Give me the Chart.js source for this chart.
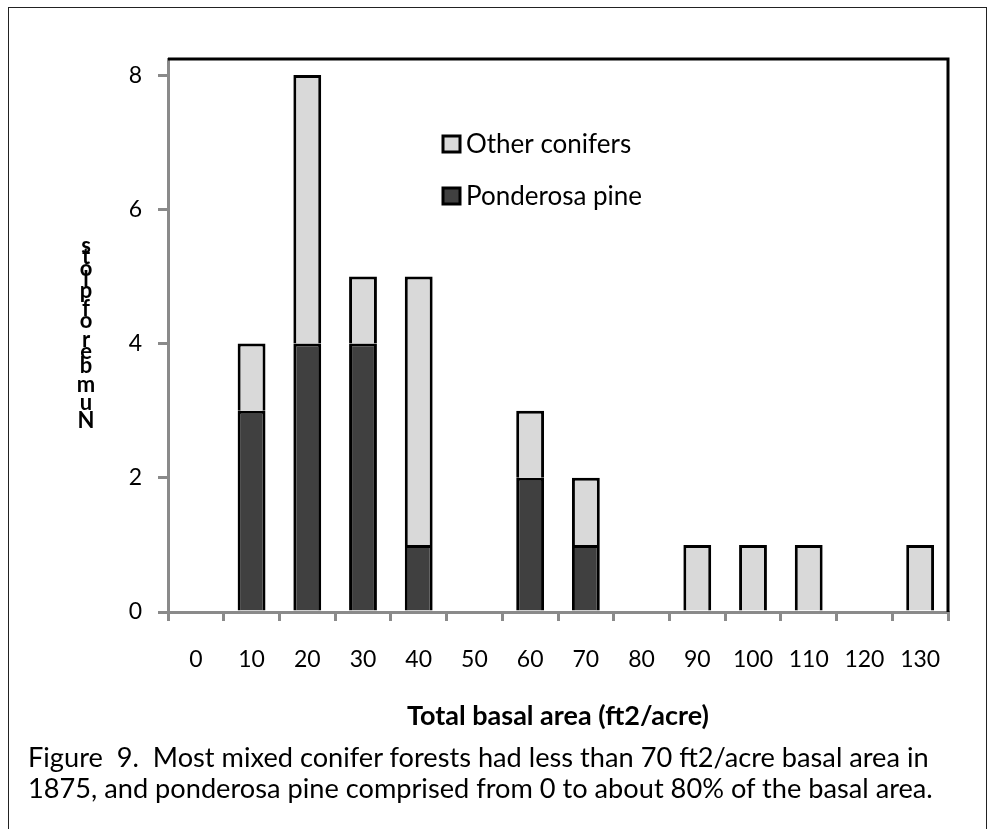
<!DOCTYPE html>
<html>
<head>
<meta charset="utf-8">
<script src="https://cdn.jsdelivr.net/npm/chart.js@4.4.1/dist/chart.umd.min.js"></script>
<style>
  body { margin: 0; background: #fff; overflow: hidden; }
  #frame { position: absolute; left: 8px; top: 7px; width: 979px; height: 840px; border: 1px solid #222; box-sizing: border-box; }
  #wrap { position: absolute; left: 0; top: 0; width: 991px; height: 829px; }
  .cap { position: absolute; left: 28px; font-family: Lato, sans-serif; font-size: 27.2px; line-height: 32px; color: #000; white-space: nowrap; }
</style>
</head>
<body>
<div id="frame"></div>
<div id="wrap"><canvas id="basalChart"></canvas></div>
<div class="cap" style="top:741px">Figure&nbsp; 9.&nbsp; Most mixed conifer forests had less than 70 ft2/acre basal area in</div>
<div class="cap" style="top:772px">1875, and ponderosa pine comprised from 0 to about 80% of the basal area.</div>
<script>
// Chart data
const basalClasses = ['0', '10', '20', '30', '40', '50', '60', '70', '80', '90', '100', '110', '120', '130'];
const ponderosaPine = [0, 3, 4, 4, 1, 0, 2, 1, 0, 0, 0, 0, 0, 0];
const otherConifers = [0, 1, 4, 1, 4, 0, 1, 1, 0, 1, 1, 1, 0, 1];
const yTicks = [0, 2, 4, 6, 8];
const yTitle = 'Number of plots';
const xTitle = 'Total basal area (ft2/acre)';

const axisGray = '#8a8a8a';
const font = 'Lato, sans-serif';

// zero counts are left empty so no flat bar gets drawn on the axis
const noZero = arr => arr.map(v => v === 0 ? null : v);

// black frame on top/right of the plot area
const plotFrame = {
    id: 'plotFrame',
    afterDatasetsDraw(chart) {
        const { ctx, chartArea: a } = chart;
        ctx.save();
        ctx.strokeStyle = '#000';
        ctx.lineWidth = 3;
        ctx.beginPath();
        ctx.moveTo(a.left, a.top);
        ctx.lineTo(a.right, a.top);
        ctx.lineTo(a.right, a.bottom);
        ctx.stroke();
        ctx.restore();
    }
};

// legend sitting inside the plot, Other conifers on top
const innerLegend = {
    id: 'innerLegend',
    afterDraw(chart) {
        const ctx = chart.ctx;
        const items = chart.data.datasets.slice().reverse();
        ctx.save();
        ctx.font = '26px ' + font;
        ctx.textBaseline = 'middle';
        items.forEach((ds, i) => {
            const y = 144 + i * 52;
            ctx.fillStyle = ds.backgroundColor;
            ctx.fillRect(443, y - 8, 17, 16);
            ctx.strokeStyle = '#000';
            ctx.lineWidth = 3;
            ctx.strokeRect(443, y - 8, 17, 16);
            ctx.fillStyle = '#000';
            ctx.fillText(ds.label, 466, y + 1);
        });
        ctx.restore();
    }
};

// y title as upright glyphs stacked bottom-to-top, like the original
const stackedYTitle = {
    id: 'stackedYTitle',
    afterDraw(chart) {
        const { ctx, chartArea: a } = chart;
        ctx.save();
        ctx.font = 'bold 22px ' + font;
        ctx.fillStyle = '#000';
        ctx.textAlign = 'center';
        ctx.textBaseline = 'middle';
        const chars = yTitle.split('');
        const adv = chars.map(c => ctx.measureText(c).width);
        const total = adv.reduce((s, v) => s + v, 0);
        const span = 190;
        const k = span / total;
        let y = (a.top + a.bottom) / 2 + span / 2;
        chars.forEach((c, i) => {
            const step = adv[i] * k;
            ctx.fillText(c, 86, y - step / 2);
            y -= step;
        });
        ctx.restore();
    }
};

const ctx = document.getElementById('basalChart').getContext('2d');
const basalChart = new Chart(ctx, {
    type: 'bar',
    data: {
        labels: basalClasses,
        datasets: [{
            label: 'Ponderosa pine',
            data: noZero(ponderosaPine),
            backgroundColor: '#404040',
            borderColor: '#000',
            borderWidth: 3
        }, {
            label: 'Other conifers',
            data: noZero(otherConifers),
            backgroundColor: '#d9d9d9',
            borderColor: '#000',
            borderWidth: 3
        }]
    },
    options: {
        responsive: true,
        maintainAspectRatio: false,
        animation: false,
        categoryPercentage: 1,
        barPercentage: 0.5,
        layout: { padding: { left: 0, top: 59, right: 43, bottom: 87 } },
        plugins: {
            legend: { display: false },
            tooltip: { enabled: false }
        },
        scales: {
            x: {
                stacked: true,
                offset: true,
                grid: {
                    offset: true,
                    drawOnChartArea: false,
                    color: axisGray,
                    lineWidth: 3,
                    tickLength: 9
                },
                border: { color: axisGray, width: 3 },
                ticks: {
                    color: '#000',
                    font: { family: font, size: 23 },
                    padding: 25,
                    maxRotation: 0,
                    autoSkip: false
                },
                title: {
                    display: true,
                    text: xTitle,
                    color: '#000',
                    font: { family: font, size: 27, weight: 'bold' },
                    padding: { top: 0, bottom: 10 }
                },
                afterFit(scale) { scale.height = 130; }
            },
            y: {
                stacked: true,
                min: 0,
                max: 8.24,
                afterBuildTicks(scale) {
                    scale.ticks = yTicks.map(v => ({ value: v }));
                },
                grid: {
                    drawOnChartArea: false,
                    color: axisGray,
                    lineWidth: 3,
                    tickLength: 10
                },
                border: { color: axisGray, width: 3 },
                ticks: {
                    color: '#000',
                    font: { family: font, size: 23 },
                    padding: 16
                },
                afterFit(scale) { scale.width = 168; }
            }
        }
    },
    plugins: [plotFrame, innerLegend, stackedYTitle]
});
</script>
</body>
</html>
